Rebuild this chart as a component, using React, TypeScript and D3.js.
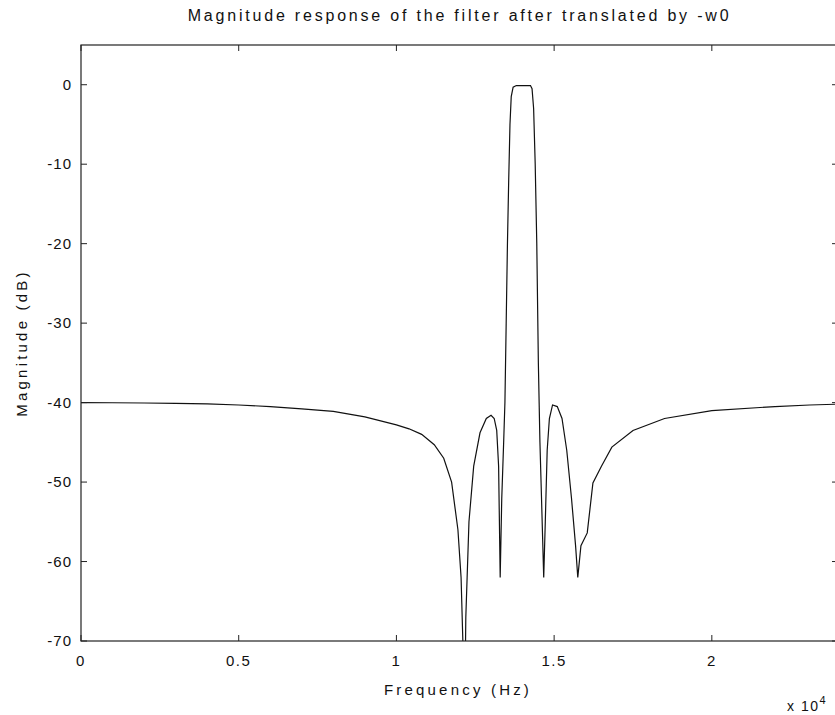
import React from 'react';
import * as d3 from 'd3';

const titleText = 'Magnitude response of the filter after translated by -w0';
const xLabelText = 'Frequency (Hz)';
const yLabelText = 'Magnitude (dB)';

const freqHz = [
  0, 1000, 2000, 3000, 4000, 5000, 6000, 7000, 8000, 9000, 10000, 10400, 10800,
  11200, 11500, 11750, 11950, 12050, 12120, 12150, 12200, 12300, 12450, 12650,
  12850, 13000, 13100, 13180, 13240, 13290, 13340, 13400, 13440, 13480, 13520,
  13560, 13600, 13640, 13700, 13800, 14000, 14200, 14250, 14300, 14350, 14400,
  14450, 14500, 14550, 14600, 14670, 14720, 14780, 14850, 14950, 15100, 15250,
  15400, 15550, 15680, 15750, 15850, 16050, 16230, 16500, 16830, 17500, 18500,
  20000, 22000, 23100, 24000,
];
const magDb = [
  -40, -40.02, -40.05, -40.1, -40.15, -40.3, -40.5, -40.8, -41.1, -41.8, -42.8,
  -43.3, -44, -45.3, -47, -50, -56, -62, -72, -85, -67, -55, -48, -43.8, -42,
  -41.6, -42, -43.5, -48, -62, -52, -45, -40, -30, -20, -12, -5, -1.5, -0.3,
  -0.1, -0.1, -0.1, -0.1, -0.5, -3, -10, -20, -35, -45, -52, -62, -55, -46, -42,
  -40.3, -40.5, -42, -46, -52, -58, -62, -58, -56.4, -50.1, -48, -45.6, -43.5,
  -42, -41, -40.5, -40.3, -40.2,
];

const xDomain = [0, 24000];
const yDomain = [-70, 5];
const xTicks = [0, 5000, 10000, 15000, 20000];
const xTickLabels = ['0', '0.5', '1', '1.5', '2'];
const yTicks = [0, -10, -20, -30, -40, -50, -60, -70];
const yTickLabels = ['0', '-10', '-20', '-30', '-40', '-50', '-60', '-70'];

export default function App() {
  const W = 835;
  const H = 715;
  const L = 81, R = 838, T = 45, B = 641;
  const x = d3.scaleLinear().domain(xDomain).range([L, R]);
  const y = d3.scaleLinear().domain(yDomain).range([B, T]);
  const line = d3
    .line<number>()
    .x((_, i) => x(freqHz[i]))
    .y((d) => y(d));
  const font = '"Liberation Sans", Arial, Helvetica, sans-serif';
  const tk = 6;
  return (
    <svg
      width={W}
      height={H}
      style={{ position: 'absolute', left: 0, top: 0, background: '#fff' }}
      fontFamily={font}
    >
      <defs>
        <clipPath id="plotclip">
          <rect x={L} y={T} width={R - L} height={B - T} />
        </clipPath>
      </defs>
      <rect x={0} y={0} width={W} height={H} fill="#fff" />
      <text x={(L + R) / 2} y={21} textAnchor="middle" fontSize={16} letterSpacing={2.8} fill="#111">
        {titleText}
      </text>
      <path d={line(magDb) || ''} fill="none" stroke="#111" strokeWidth={1.2} clipPath="url(#plotclip)" />
      <rect x={L} y={T} width={R - L} height={B - T} fill="none" stroke="#222" strokeWidth={1.2} />
      {xTicks.map((t, i) => (
        <g key={'x' + t}>
          <line x1={x(t)} x2={x(t)} y1={B} y2={B - tk} stroke="#222" />
          <line x1={x(t)} x2={x(t)} y1={T} y2={T + tk} stroke="#222" />
          <text x={x(t)} y={666} textAnchor="middle" fontSize={15} letterSpacing={1.5} fill="#111">
            {xTickLabels[i]}
          </text>
        </g>
      ))}
      {yTicks.map((t, i) => (
        <g key={'y' + t}>
          <line x1={L} x2={L + tk} y1={y(t)} y2={y(t)} stroke="#222" />
          <line x1={R} x2={R - tk} y1={y(t)} y2={y(t)} stroke="#222" />
          <text x={L - 9} y={y(t) + 5} textAnchor="end" fontSize={15} letterSpacing={1} fill="#111">
            {yTickLabels[i]}
          </text>
        </g>
      ))}
      <text x={458} y={695} textAnchor="middle" fontSize={15} letterSpacing={3.2} fill="#111">
        {xLabelText}
      </text>
      <text
        transform={`translate(27, 343) rotate(-90)`}
        textAnchor="middle"
        fontSize={15}
        letterSpacing={3.2}
        fill="#111"
      >
        {yLabelText}
      </text>
      <text x={787} y={711} fontSize={14} letterSpacing={1.5} fill="#111">
        x 10
        <tspan dy={-7} fontSize={11}>4</tspan>
      </text>
    </svg>
  );
}
